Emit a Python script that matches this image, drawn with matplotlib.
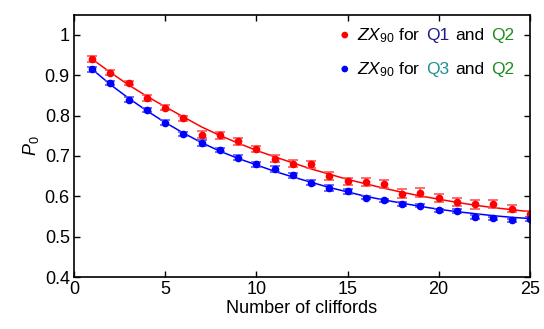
import numpy as np
import matplotlib
matplotlib.use('Agg')
import matplotlib.pyplot as plt
from matplotlib.offsetbox import TextArea, HPacker, VPacker, DrawingArea, AnchoredOffsetbox
from matplotlib.patches import Circle

plt.rcParams['font.family'] = ['Liberation Sans', 'DejaVu Sans']
plt.rcParams['mathtext.fontset'] = 'custom'
plt.rcParams['mathtext.rm'] = 'Liberation Sans'
plt.rcParams['mathtext.it'] = 'Liberation Sans:italic'

# Data
n_cliffords = np.arange(1, 26)
p0_q1q2 = [0.940, 0.906, 0.881, 0.844, 0.820, 0.793, 0.753, 0.751, 0.736, 0.718,
           0.693, 0.681, 0.679, 0.650, 0.637, 0.635, 0.630, 0.607, 0.609, 0.596,
           0.585, 0.580, 0.582, 0.569, 0.556]
err_q1q2 = [0.007, 0.006, 0.006, 0.007, 0.006, 0.007, 0.008, 0.008, 0.008, 0.008,
            0.009, 0.009, 0.009, 0.010, 0.009, 0.010, 0.010, 0.010, 0.011, 0.010,
            0.010, 0.011, 0.010, 0.009, 0.008]
p0_q3q2 = [0.915, 0.880, 0.840, 0.814, 0.782, 0.754, 0.732, 0.715, 0.696, 0.679,
           0.668, 0.652, 0.634, 0.621, 0.612, 0.597, 0.590, 0.582, 0.577, 0.565,
           0.563, 0.549, 0.546, 0.541, 0.544]
err_q3q2 = [0.006, 0.005, 0.007, 0.006, 0.006, 0.005, 0.007, 0.006, 0.006, 0.006,
            0.008, 0.006, 0.006, 0.007, 0.006, 0.004, 0.004, 0.005, 0.004, 0.004,
            0.005, 0.005, 0.004, 0.004, 0.004]

# fit curves, read at each integer
fit_q1q2 = [0.940, 0.907, 0.876, 0.848, 0.822, 0.797, 0.772, 0.751, 0.732, 0.714,
            0.698, 0.683, 0.668, 0.655, 0.642, 0.631, 0.620, 0.610, 0.601, 0.593,
            0.585, 0.578, 0.572, 0.567, 0.562]
fit_q3q2 = [0.915, 0.877, 0.843, 0.812, 0.783, 0.757, 0.733, 0.712, 0.694, 0.678,
            0.662, 0.648, 0.635, 0.622, 0.611, 0.600, 0.591, 0.583, 0.575, 0.568,
            0.562, 0.557, 0.552, 0.548, 0.545]

red = '#ff0000'
blue = '#0000ff'

fig = plt.figure(figsize=(5.44, 3.29), dpi=100)
ax = fig.add_axes([0.136, 0.158, 0.838, 0.797])

ax.plot(n_cliffords, fit_q1q2, color=red, lw=1.1)
ax.plot(n_cliffords, fit_q3q2, color=blue, lw=1.1)
ax.errorbar(n_cliffords, p0_q1q2, yerr=err_q1q2, fmt='o', color=red, ms=4.5,
            ecolor='#ff5555', elinewidth=1.2, capsize=3.5, capthick=1.2)
ax.errorbar(n_cliffords, p0_q3q2, yerr=err_q3q2, fmt='o', color=blue, ms=4.5,
            ecolor='#5555ff', elinewidth=1.2, capsize=3.5, capthick=1.2)

ax.set_xlim(0, 25)
ax.set_ylim(0.4, 1.05)
ax.set_xticks([0, 5, 10, 15, 20, 25])
ax.set_yticks([0.4, 0.5, 0.6, 0.7, 0.8, 0.9, 1.0])
ax.set_yticklabels(['0.4', '0.5', '0.6', '0.7', '0.8', '0.9', '1'])
ax.tick_params(direction='in', top=True, right=True, length=4, width=1,
               labelsize=13, pad=3)
for s in ax.spines.values():
    s.set_linewidth(1.2)
ax.set_xlabel('Number of cliffords', fontsize=13, labelpad=1)
ax.set_ylabel('$P_0$', fontsize=13, labelpad=3)


def legend_row(dot_color, parts):
    da = DrawingArea(8, 8, 0, 0)
    da.add_artist(Circle((4, 3.5), 1.9, color=dot_color))
    boxes = [da]
    for txt, c in parts:
        boxes.append(TextArea(txt, textprops=dict(color=c, fontsize=12.5)))
    return HPacker(children=boxes, align='baseline', pad=0, sep=4.5)


row1 = legend_row(red, [('$ZX_{90}$ for', 'black'), ('Q1', '#1c1c8e'),
                        ('and', 'black'), ('Q2', '#1e8c1e')])
row2 = legend_row(blue, [('$ZX_{90}$ for', 'black'), ('Q3', '#1f9090'),
                         ('and', 'black'), ('Q2', '#1e8c1e')])
box = VPacker(children=[row1, row2], align='left', pad=0, sep=11)
anch = AnchoredOffsetbox(loc='upper right', child=box, pad=0.3, frameon=False,
                         bbox_to_anchor=(0.99, 1.0), bbox_transform=ax.transAxes)
ax.add_artist(anch)

fig.savefig('out.png', dpi=100)
